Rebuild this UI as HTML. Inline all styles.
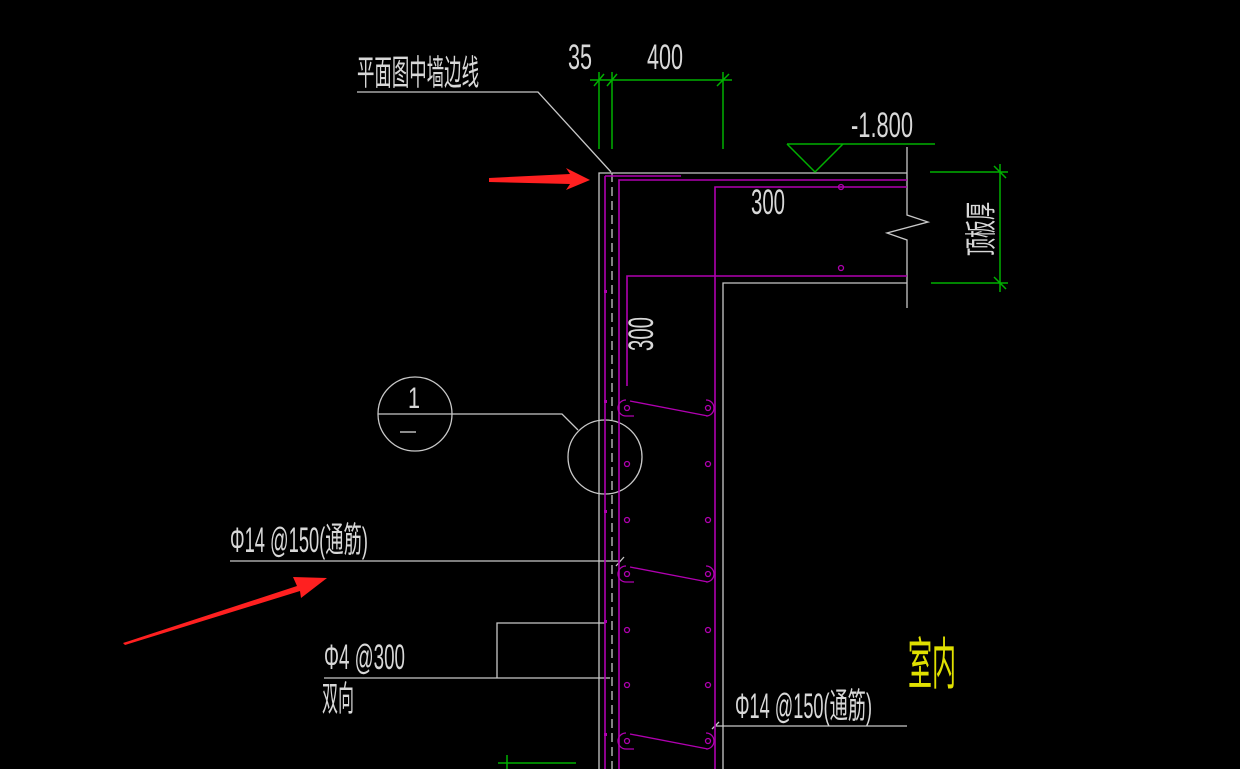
<!DOCTYPE html>
<html><head><meta charset="utf-8"><style>html,body{margin:0;padding:0;background:#000;}svg{display:block}</style></head>
<body>
<svg width="1240" height="769" viewBox="0 0 1240 769" xmlns="http://www.w3.org/2000/svg" font-family="Liberation Sans, Noto Sans CJK SC, sans-serif">
<rect width="1240" height="769" fill="#000"/>
<g fill="none" stroke="#c8c8c8" stroke-width="1.3">
  <polyline points="599,769 599,173 907,173"/>
  <polyline points="723,769 723,283 907,283"/>
  <line x1="612" y1="173" x2="612" y2="769" stroke-dasharray="9,5"/>
  <polyline points="907,147 907,215 928,222 887,233 907,240 907,308"/>
  <polyline points="357,92 538,92 611,172"/>
  <circle cx="415" cy="414" r="37"/>
  <polyline points="378,414 562,414 578,430"/>
  <circle cx="605" cy="457" r="37"/>
  <line x1="230" y1="561" x2="620" y2="561"/>
  <line x1="616" y1="566" x2="624" y2="557"/>
  <polyline points="605,623 497,623 497,678"/>
  <line x1="324" y1="678" x2="610" y2="678"/>
  <line x1="715" y1="726" x2="907" y2="726"/>
  <line x1="712" y1="729" x2="719" y2="722"/>
</g>
<g fill="none" stroke="#b000b0" stroke-width="1.6">
  <line x1="605" y1="176" x2="605" y2="769"/>
  <line x1="605" y1="176" x2="681" y2="176"/>
  <polyline points="619,769 619,180 907,180"/>
  <polyline points="715,769 715,187 907,187"/>
  <polyline points="627,386 627,276 907,276"/>
</g>
<g fill="none" stroke="#b000b0" stroke-width="1.3">
  <g id="st">
    <path d="M630,401 L708,416 M626,400 a8,8 0 0 0 0,16 h8 M706,400 a8,8 0 0 1 0,16"/>
    <circle cx="627" cy="408" r="2.5"/><circle cx="708" cy="408" r="2.5"/>
  </g>
  <use href="#st" y="166"/>
  <use href="#st" y="333"/>
  <circle cx="627" cy="464" r="2.5"/><circle cx="708" cy="464" r="2.5"/>
  <circle cx="627" cy="520" r="2.5"/><circle cx="708" cy="520" r="2.5"/>
  <circle cx="627" cy="630" r="2.5"/><circle cx="708" cy="630" r="2.5"/>
  <circle cx="627" cy="685" r="2.5"/><circle cx="708" cy="685" r="2.5"/>
  <circle cx="841" cy="187" r="2.5"/><circle cx="841" cy="268" r="2.5"/>
</g>
<g fill="#b000b0">
  <rect x="604" y="290" width="3" height="3"/><rect x="604" y="400" width="3" height="3"/>
  <rect x="604" y="510" width="3" height="3"/><rect x="604" y="620" width="3" height="3"/>
  <rect x="604" y="733" width="3" height="3"/>
</g>
<g fill="none" stroke="#00b000" stroke-width="1.5">
  <line x1="590" y1="80" x2="732" y2="80"/>
  <line x1="599" y1="72" x2="599" y2="149"/>
  <line x1="612" y1="72" x2="612" y2="149"/>
  <line x1="723" y1="72" x2="723" y2="149"/>
  <line x1="594" y1="86" x2="604" y2="74"/><line x1="607" y1="86" x2="617" y2="74"/><line x1="717" y1="86" x2="729" y2="74"/>
  <line x1="787" y1="144" x2="935" y2="144"/>
  <polyline points="787,144 815,172 843,144"/>
  <line x1="930" y1="172" x2="1008" y2="172"/>
  <line x1="931" y1="283" x2="1008" y2="283"/>
  <line x1="1000" y1="164" x2="1000" y2="292"/>
  <line x1="994" y1="166" x2="1006" y2="178"/><line x1="994" y1="277" x2="1006" y2="289"/>
  <line x1="498" y1="763" x2="576" y2="763"/>
  <line x1="507" y1="755" x2="507" y2="769"/>
</g>
<g fill="#ff2020">
  <polygon points="489,178 570,174 566,168 590,180 566,190 570,184 489,182"/>
  <polygon points="123,643 297,586 293,577 327,578 301,598 300,591 125,645"/>
</g>
<g fill="#d8d8d8" font-size="35">
  <text x="357" y="85" textLength="122" lengthAdjust="spacingAndGlyphs">平面图中墙边线</text>
  <text x="568" y="69" textLength="24" lengthAdjust="spacingAndGlyphs">35</text>
  <text x="647" y="69" textLength="36" lengthAdjust="spacingAndGlyphs">400</text>
  <text x="851" y="137" textLength="62" lengthAdjust="spacingAndGlyphs">-1.800</text>
  <text x="751" y="214" textLength="34" lengthAdjust="spacingAndGlyphs">300</text>
  <text transform="translate(653,351) rotate(-90)" textLength="34" lengthAdjust="spacingAndGlyphs">300</text>
  <text transform="translate(992,256) rotate(-90)" font-size="32" textLength="54" lengthAdjust="spacingAndGlyphs">顶板厚</text>
  <text x="408" y="408" font-size="30" textLength="12" lengthAdjust="spacingAndGlyphs">1</text>
  <line x1="400" y1="432" x2="416" y2="432" stroke="#d8d8d8" stroke-width="1.3"/>
  <text x="230" y="552" textLength="138" lengthAdjust="spacingAndGlyphs">Φ14 @150(通筋)</text>
  <text x="324" y="669" textLength="81" lengthAdjust="spacingAndGlyphs">Φ4 @300</text>
  <text x="322" y="711" textLength="32" lengthAdjust="spacingAndGlyphs">双向</text>
  <text x="735" y="718" textLength="137" lengthAdjust="spacingAndGlyphs">Φ14 @150(通筋)</text>
</g>
<text x="908" y="684" fill="#e0e000" font-size="56" textLength="48" lengthAdjust="spacingAndGlyphs">室内</text>
</svg>
</body></html>
